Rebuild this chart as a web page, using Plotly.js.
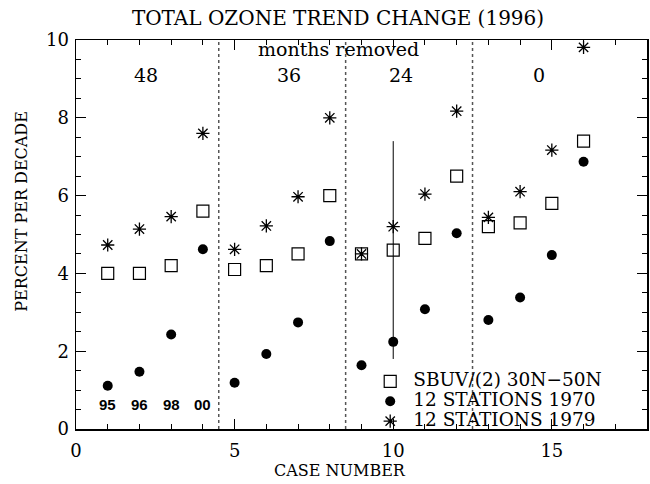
<!DOCTYPE html>
<html>
<head>
<meta charset="utf-8">
<script src="https://cdn.plot.ly/plotly-3.0.1.min.js"></script>
<style>html,body{margin:0;padding:0;background:#fff;}#chart{width:650px;height:484px;}</style>
</head>
<body>
<div id="chart"></div>
<script>
// ---- data ----
const cases = [1,2,3,4,5,6,7,8,9,10,11,12,13,14,15,16];
const sbuv = [4.0,4.0,4.2,5.6,4.1,4.2,4.5,6.0,4.5,4.6,4.9,6.5,5.2,5.3,5.8,7.4];
const st1970 = [1.11,1.47,2.43,4.62,1.19,1.93,2.74,4.83,1.64,2.24,3.08,5.03,2.80,3.38,4.47,6.87];
const st1979 = [4.73,5.14,5.46,7.60,4.62,5.22,5.97,8.00,4.50,5.20,6.04,8.17,5.44,6.10,7.17,9.81];
const seriesNames = ["SBUV/(2) 30N\u221250N","12 STATIONS 1970","12 STATIONS 1979"];
const errCase = 10;
const errHalf = 2.8;
const dividers = [4.5, 8.5, 12.5];
const groupLabels = ["48","36","24","0"];
const groupLabelX = [2.2, 6.7, 10.25, 14.6];
const yearLabels = ["95","96","98","00"];
const yearCases = [1,2,3,4];

const serif = "DejaVu Serif, serif";
const errIdx = cases.indexOf(errCase);
const errCenter = sbuv[errIdx];
const big = s => '<span style="font-size:18.5px">' + s + '</span>';

const traces = [
  {x:[errCase,errCase], y:[errCenter-errHalf, errCenter+errHalf], mode:'lines',
   line:{color:'black', width:1}, showlegend:false, hoverinfo:'skip'},
  {x:cases, y:sbuv, name:big(seriesNames[0]), mode:'markers', type:'scatter',
   marker:{symbol:'square-open', size:12, color:'black', line:{width:1.2, color:'black'}}},
  {x:cases, y:st1970, name:big(seriesNames[1]), mode:'markers', type:'scatter',
   marker:{symbol:'circle', size:10, color:'black'}},
  {x:cases, y:st1979, name:big(seriesNames[2]), mode:'markers', type:'scatter',
   marker:{symbol:'asterisk-open', size:11, color:'black', line:{width:1.3, color:'black'}}}
];

const annotations = [
  {x:8.27, y:9.76, xref:'x', yref:'y', text:'months removed', showarrow:false,
   font:{family:serif, size:19, color:'black'}},
  {x:-0.0954, y:0.56, xref:'paper', yref:'paper', text:'PERCENT PER DECADE', textangle:-90,
   showarrow:false, xanchor:'center', yanchor:'middle', font:{family:serif, size:16, color:'black'}},
  {x:0.462, y:-0.106, xref:'paper', yref:'paper', text:'CASE NUMBER',
   showarrow:false, xanchor:'center', yanchor:'middle', font:{family:serif, size:16, color:'black'}}
];
groupLabels.forEach((t,i)=>annotations.push({x:groupLabelX[i], y:9.1, xref:'x', yref:'y', text:t,
  showarrow:false, font:{family:serif, size:19, color:'black'}}));
yearLabels.forEach((t,i)=>annotations.push({x:yearCases[i], y:0.62, xref:'x', yref:'y', text:'<b>'+t+'</b>',
  showarrow:false, font:{family:'Liberation Sans, Arial, sans-serif', size:15, color:'black'}}));

const shapes = dividers.map(d=>({type:'line', xref:'x', yref:'paper', x0:d, x1:d, y0:0, y1:1,
  line:{color:'#555', width:1.5, dash:'dot'}}));

const axisCommon = {
  showline:true, linecolor:'black', linewidth:1.5, mirror:'ticks',
  ticks:'inside', ticklen:10, tickwidth:1, tickcolor:'black',
  showgrid:false, zeroline:false,
  tickfont:{family:serif, size:18, color:'black'}
};

const layout = {
  width:650, height:484,
  margin:{l:76, r:3, t:40, b:55},
  paper_bgcolor:'white', plot_bgcolor:'white',
  font:{family:serif, color:'black'},
  title:{text:'TOTAL OZONE TREND CHANGE (1996)', x:0.52, xanchor:'center', y:0.963, yanchor:'middle',
    font:{family:serif, size:20, color:'black'}},
  xaxis:Object.assign({}, axisCommon, {range:[0,18], dtick:5, tick0:0, ticklabelstandoff:5,
    minor:{ticks:'inside', ticklen:5, dtick:1, tickcolor:'black', tickwidth:1}}),
  yaxis:Object.assign({}, axisCommon, {range:[0,10], dtick:2, tick0:0, ticklabelstandoff:2,
    minor:{ticks:'inside', ticklen:5, dtick:0.5, tickcolor:'black', tickwidth:1}}),
  showlegend:true,
  legend:{x:0.51, y:-0.019, xanchor:'left', yanchor:'bottom', bgcolor:'rgba(0,0,0,0)',
    font:{family:serif, size:13, color:'black'}, itemwidth:36, tracegroupgap:0},
  annotations:annotations,
  shapes:shapes
};

Plotly.newPlot('chart', traces, layout, {displayModeBar:false, staticPlot:true});
</script>
</body>
</html>
